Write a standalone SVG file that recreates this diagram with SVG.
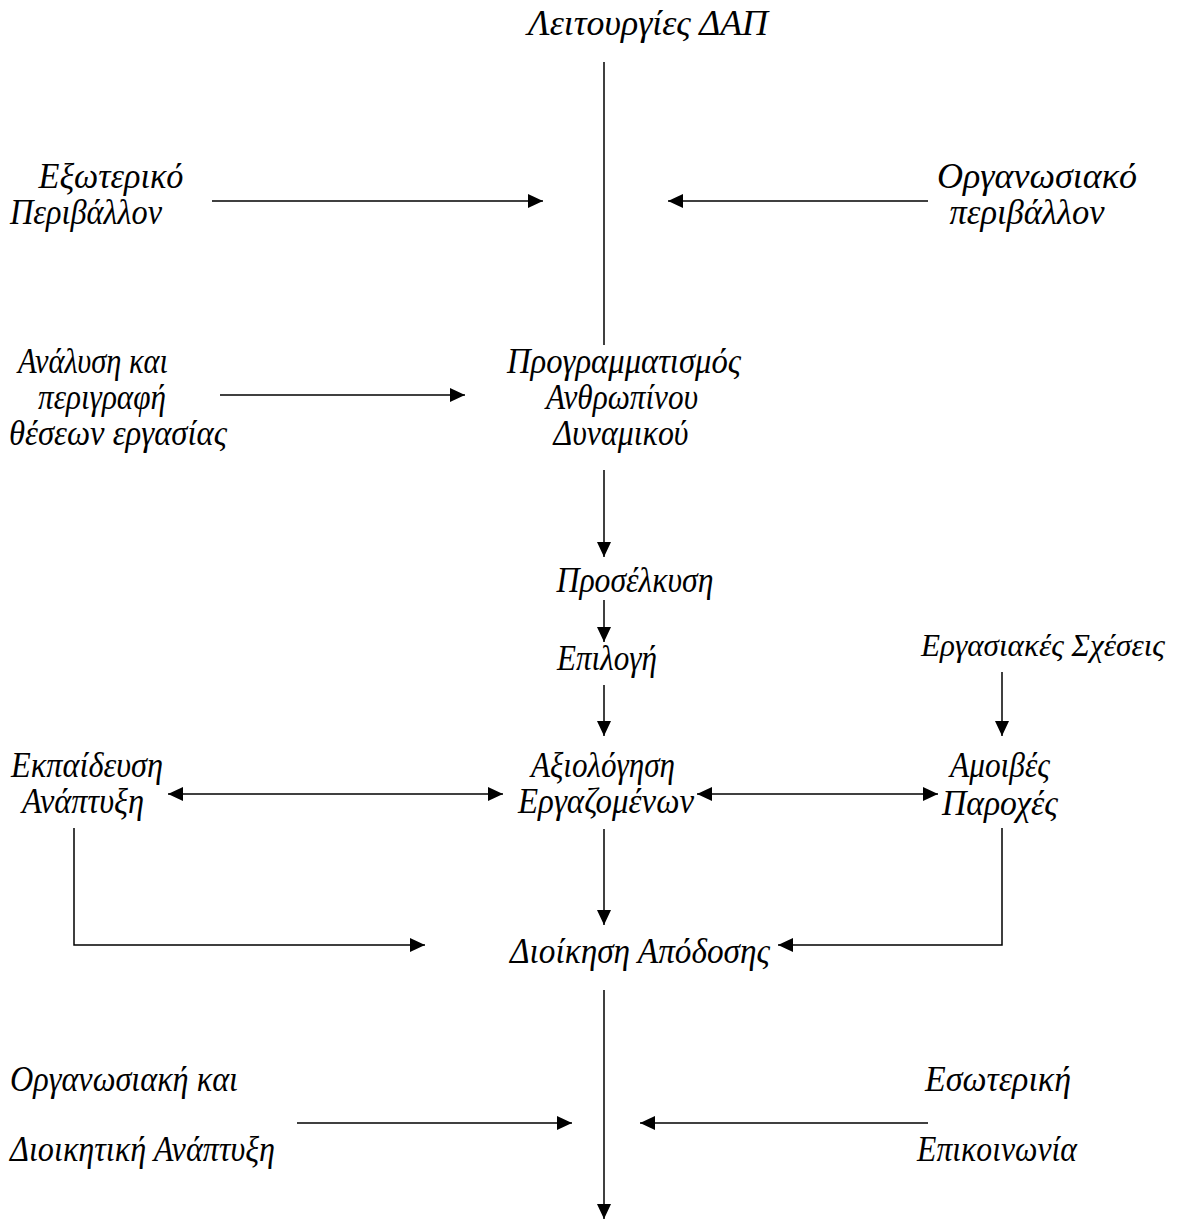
<svg xmlns="http://www.w3.org/2000/svg" width="1178" height="1221" viewBox="0 0 1178 1221">
<style>
text{font-family:"Liberation Serif","Times New Roman",serif;font-style:italic;font-size:35px;fill:#000}
.c{text-anchor:middle}
.ln{stroke:#000;stroke-width:1.5;fill:none}
</style>
<defs>
<marker id="ah" markerUnits="userSpaceOnUse" markerWidth="16" markerHeight="14" refX="15" refY="7" orient="auto-start-reverse">
<path d="M0,0 L15,7 L0,14 Z" fill="#000"/>
</marker>
</defs>
<g id="connectors">
<line class="ln" x1="604" y1="62" x2="604" y2="345"/>
<line class="ln" x1="212" y1="201" x2="543" y2="201" marker-end="url(#ah)"/>
<line class="ln" x1="928" y1="201" x2="668" y2="201" marker-end="url(#ah)"/>
<line class="ln" x1="220" y1="395" x2="465" y2="395" marker-end="url(#ah)"/>
<line class="ln" x1="604" y1="470" x2="604" y2="557" marker-end="url(#ah)"/>
<line class="ln" x1="604" y1="600" x2="604" y2="642" marker-end="url(#ah)"/>
<line class="ln" x1="604" y1="685" x2="604" y2="736" marker-end="url(#ah)"/>
<line class="ln" x1="1002" y1="672" x2="1002" y2="736" marker-end="url(#ah)"/>
<line class="ln" x1="168" y1="794" x2="503" y2="794" marker-start="url(#ah)" marker-end="url(#ah)"/>
<line class="ln" x1="697" y1="794" x2="938" y2="794" marker-start="url(#ah)" marker-end="url(#ah)"/>
<polyline class="ln" points="74,828 74,945 425,945" marker-end="url(#ah)"/>
<line class="ln" x1="604" y1="829" x2="604" y2="925" marker-end="url(#ah)"/>
<polyline class="ln" points="1002,828 1002,945 778,945" marker-end="url(#ah)"/>
<line class="ln" x1="604" y1="990" x2="604" y2="1219" marker-end="url(#ah)"/>
<line class="ln" x1="297" y1="1123" x2="572" y2="1123" marker-end="url(#ah)"/>
<line class="ln" x1="928" y1="1123" x2="640" y2="1123" marker-end="url(#ah)"/>
</g>
<g id="n-title"><text class="c" x="648" y="35" textLength="240" lengthAdjust="spacingAndGlyphs">Λειτουργίες ΔΑΠ</text></g>
<g id="n-ext"><text class="c" x="111" y="188" textLength="145" lengthAdjust="spacingAndGlyphs">Εξωτερικό</text><text class="c" x="86" y="224" textLength="152" lengthAdjust="spacingAndGlyphs">Περιβάλλον</text></g>
<g id="n-org"><text class="c" x="1037" y="188" textLength="200" lengthAdjust="spacingAndGlyphs">Οργανωσιακό</text><text class="c" x="1027" y="224" textLength="155" lengthAdjust="spacingAndGlyphs">περιβάλλον</text></g>
<g id="n-anal"><text class="c" x="93" y="373" textLength="150" lengthAdjust="spacingAndGlyphs">Ανάλυση και</text><text class="c" x="102" y="409" textLength="128" lengthAdjust="spacingAndGlyphs">περιγραφή</text><text class="c" x="118" y="445" textLength="218" lengthAdjust="spacingAndGlyphs">θέσεων εργασίας</text></g>
<g id="n-prog"><text class="c" x="624" y="373" textLength="234" lengthAdjust="spacingAndGlyphs">Προγραμματισμός</text><text class="c" x="622" y="409" textLength="152" lengthAdjust="spacingAndGlyphs">Ανθρωπίνου</text><text class="c" x="621" y="445" textLength="135" lengthAdjust="spacingAndGlyphs">Δυναμικού</text></g>
<g id="n-pros"><text class="c" x="635" y="592" textLength="157" lengthAdjust="spacingAndGlyphs">Προσέλκυση</text></g>
<g id="n-epil"><text class="c" x="607" y="670" textLength="100" lengthAdjust="spacingAndGlyphs">Επιλογή</text></g>
<g id="n-erg"><text class="c" x="1043" y="656" style="font-size:32px" textLength="244" lengthAdjust="spacingAndGlyphs">Εργασιακές Σχέσεις</text></g>
<g id="n-ekp"><text class="c" x="87" y="777" textLength="152" lengthAdjust="spacingAndGlyphs">Εκπαίδευση</text><text class="c" x="83" y="813" textLength="122" lengthAdjust="spacingAndGlyphs">Ανάπτυξη</text></g>
<g id="n-axi"><text class="c" x="603" y="777" textLength="144" lengthAdjust="spacingAndGlyphs">Αξιολόγηση</text><text class="c" x="606" y="813" textLength="176" lengthAdjust="spacingAndGlyphs">Εργαζομένων</text></g>
<g id="n-amo"><text class="c" x="1000" y="777" textLength="100" lengthAdjust="spacingAndGlyphs">Αμοιβές</text><text class="c" x="1000" y="815" textLength="116" lengthAdjust="spacingAndGlyphs">Παροχές</text></g>
<g id="n-dioik"><text class="c" x="640" y="963" textLength="260" lengthAdjust="spacingAndGlyphs">Διοίκηση Απόδοσης</text></g>
<g id="n-organ"><text x="10" y="1091" textLength="228" lengthAdjust="spacingAndGlyphs">Οργανωσιακή και</text><text x="10" y="1161" textLength="265" lengthAdjust="spacingAndGlyphs">Διοικητική Ανάπτυξη</text></g>
<g id="n-eso"><text class="c" x="998" y="1091" textLength="146" lengthAdjust="spacingAndGlyphs">Εσωτερική</text><text class="c" x="997" y="1161" textLength="160" lengthAdjust="spacingAndGlyphs">Επικοινωνία</text></g>
</svg>
